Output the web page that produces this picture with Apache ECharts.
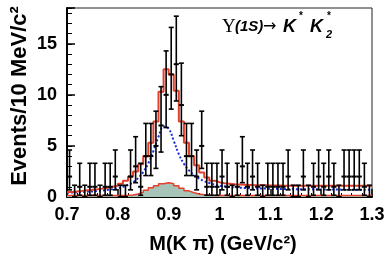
<!DOCTYPE html>
<html>
<head>
<meta charset="utf-8">
<script src="https://cdn.jsdelivr.net/npm/echarts@6/dist/echarts.min.js"></script>
<style>
html,body{margin:0;padding:0;background:#fff;}
#chart{width:390px;height:262px;}
</style>
</head>
<body>
<div id="chart"></div>
<script>
// ---- data (10 MeV bins from 0.70 to 1.30 GeV/c^2) ----
const massMin = 0.70;
const massMax = 1.30;
const binWidth = 0.01;

const counts = [2,0,1,0,1,1,0,1,1,2, 0,0,2,3,1,4,4,5,7,10, 12,13,9,4,4,2,5,1,1,1,
                2,1,0,1,3,1,2,1,0,1, 1,1,1,2,0,0,2,0,1,2, 1,2,1,0,2,2,2,2,1,0];
const errHigh = [4.6,1.15,3.3,1.15,3.3,3.3,1.15,3.3,3.3,4.6, 1.15,1.15,4.6,5.9,3.3,7.2,7.2,8.4,10.8,14.3,
                 16.6,17.7,13.1,7.2,7.2,4.6,8.4,3.3,3.3,3.3, 4.6,3.3,1.15,3.3,5.9,3.3,4.6,3.3,1.15,3.3,
                 3.3,3.3,3.3,4.6,1.15,1.15,4.6,1.15,3.3,4.6, 3.3,4.6,3.3,1.15,4.6,4.6,4.6,4.6,3.3,1.15];
const errLow = [0.7,0,0.17,0,0.17,0.17,0,0.17,0.17,0.7, 0,0,0.7,1.4,0.17,2.1,2.1,2.8,4.4,6.8,
                8.6,9.4,6.0,2.1,2.1,0.7,2.8,0.17,0.17,0.17, 0.7,0.17,0,0.17,1.4,0.17,0.7,0.17,0,0.17,
                0.17,0.17,0.17,0.7,0,0,0.7,0,0.17,0.7, 0.17,0.7,0.17,0,0.7,0.7,0.7,0.7,0.17,0];

// total fit (red histogram), per bin
const fitTotal = [0.5,0.55,0.6,0.65,0.7,0.75,0.82,0.9,1.0,1.1, 1.3,1.6,2.0,2.5,3.2,4.0,5.3,7.4,10.3,12.5,
                  12.0,10.4,7.4,5.3,4.0,3.1,2.4,1.9,1.6,1.45, 1.35,1.3,1.25,1.22,1.2,1.18,1.16,1.15,1.14,1.13,
                  1.12,1.12,1.11,1.11,1.1,1.1,1.1,1.1,1.1,1.1, 1.1,1.1,1.1,1.1,1.1,1.1,1.1,1.1,1.1,1.1];
// peaking background (shaded histogram), per bin
const peakingBkg = [0.15,0.15,0.15,0.15,0.15,0.15,0.15,0.15,0.15,0.15, 0.15,0.17,0.2,0.3,0.45,0.65,0.9,1.1,1.3,1.4,
                    1.3,1.1,0.85,0.6,0.42,0.3,0.22,0.18,0.15,0.15, 0.15,0.15,0.15,0.15,0.15,0.15,0.15,0.15,0.15,0.15,
                    0.15,0.15,0.15,0.15,0.15,0.15,0.15,0.15,0.15,0.15, 0.15,0.15,0.15,0.15,0.15,0.15,0.15,0.15,0.15,0.15];
// blue dotted component, at bin edges 0.70 ... 1.30
const blueCurve = [0.42,0.44,0.46,0.49,0.52,0.55,0.59,0.64,0.7,0.78, 0.88,1.0,1.18,1.45,1.85,2.45,3.3,4.5,5.9,6.9,
                   6.7,5.5,4.2,3.25,2.6,2.15,1.8,1.55,1.37,1.23, 1.12,1.04,0.98,0.94,0.91,0.88,0.86,0.84,0.83,0.82,
                   0.81,0.8,0.79,0.78,0.78,0.77,0.76,0.76,0.75,0.75, 0.74,0.74,0.73,0.73,0.72,0.72,0.72,0.71,0.71,0.7, 0.7];

const xTicks = [0.7,0.8,0.9,1.0,1.1,1.2,1.3];
const yTicks = [0,5,10,15];

// ---- helpers (build library data from the arrays) ----
const edges = blueCurve.map((_, i) => +(massMin + i * binWidth).toFixed(3));
const centers = counts.map((_, i) => +(massMin + (i + 0.5) * binWidth).toFixed(4));
function stepData(vals) {
  const d = vals.map((v, i) => [edges[i], v]);
  d.push([massMax, vals[vals.length - 1]]);
  return d;
}
const pointData = counts.map((c, i) => [centers[i], c, errLow[i], errHigh[i]]);

const FONT = "'Liberation Sans', Arial, Helvetica, sans-serif";
const RED = '#e5402c';

const chart = echarts.init(document.getElementById('chart'), null, {renderer: 'canvas'});
chart.setOption({
  animation: false,
  backgroundColor: '#fff',
  grid: {left: 67, right: 18, top: 8, bottom: 65, show: true, borderColor: '#222', borderWidth: 1, containLabel: false},
  xAxis: [{
    type: 'value', min: massMin, max: massMax, interval: 0.1,
    axisLine: {show: true, lineStyle: {color: '#000', width: 2}},
    axisTick: {show: true, inside: true, length: 8, lineStyle: {color: '#000', width: 1.5}},
    minorTick: {show: true, splitNumber: 5, length: 4, lineStyle: {color: '#000', width: 1}},
    splitLine: {show: false},
    axisLabel: {
      color: '#000', fontFamily: FONT, fontWeight: 'bold', fontSize: 18, margin: 9,
      formatter: v => { const r = Math.round(v * 10) / 10; return xTicks.includes(r) ? String(r) : ''; }
    }
  }],
  yAxis: [{
    type: 'value', min: 0, max: 18.5, interval: 5,
    axisLine: {show: true, lineStyle: {color: '#000', width: 2}},
    axisTick: {show: true, inside: true, length: 8, lineStyle: {color: '#000', width: 1.5}},
    splitLine: {show: false},
    axisLabel: {
      color: '#000', fontFamily: FONT, fontWeight: 'bold', fontSize: 18, margin: 10,
      formatter: v => yTicks.includes(v) ? String(v) : ''
    }
  }, {
    type: 'value', min: 0, max: 18.5, interval: 1, position: 'left',
    axisLine: {show: false},
    axisTick: {show: true, inside: true, length: 5, lineStyle: {color: '#000', width: 1}},
    splitLine: {show: false},
    axisLabel: {show: false}
  }],
  graphic: [
    {type: 'text', rotation: Math.PI / 2, x: 20, y: 96,
     style: {text: 'Events/10 MeV/c²', font: "bold 22px " + FONT, fill: '#000', textAlign: 'center', textVerticalAlign: 'middle'}},
    {type: 'text', x: 223, y: 244,
     style: {text: 'M(K π) (GeV/c²)', font: "bold 20px " + FONT, fill: '#000', textAlign: 'center', textVerticalAlign: 'middle'}},
    {type: 'text', x: 222, y: 27, style: {text: 'Υ', font: "19px 'Liberation Serif', 'DejaVu Serif', serif", fill: '#000', textAlign: 'left', textVerticalAlign: 'middle'}},
    {type: 'text', x: 235, y: 27, style: {text: '(1S)', font: "italic bold 15px " + FONT, fill: '#000', textAlign: 'left', textVerticalAlign: 'middle'}},
    {type: 'text', x: 263, y: 27, style: {text: '→', font: "16px 'DejaVu Sans', sans-serif", fill: '#000', textAlign: 'left', textVerticalAlign: 'middle'}},
    {type: 'text', x: 283, y: 27, style: {text: 'K', font: "italic bold 18px " + FONT, fill: '#000', textAlign: 'left', textVerticalAlign: 'middle'}},
    {type: 'text', x: 299, y: 16, style: {text: '*', font: "bold 10px " + FONT, fill: '#000', textAlign: 'left', textVerticalAlign: 'middle'}},
    {type: 'text', x: 310, y: 27, style: {text: 'K', font: "italic bold 18px " + FONT, fill: '#000', textAlign: 'left', textVerticalAlign: 'middle'}},
    {type: 'text', x: 327, y: 16, style: {text: '*', font: "bold 10px " + FONT, fill: '#000', textAlign: 'left', textVerticalAlign: 'middle'}},
    {type: 'text', x: 326, y: 35, style: {text: '2', font: "italic bold 11px " + FONT, fill: '#000', textAlign: 'left', textVerticalAlign: 'middle'}}
  ],
  series: [
    {
      type: 'line', step: 'end', data: stepData(peakingBkg), symbol: 'none', z: 2,
      lineStyle: {color: RED, width: 1.5},
      areaStyle: {color: '#a6c4b7', opacity: 1}
    },
    {
      type: 'line', data: blueCurve.map((v, i) => [edges[i], v]), smooth: 0.4, symbol: 'none', z: 3,
      lineStyle: {color: '#1b2bd6', width: 2, type: [2, 2]}
    },
    {
      type: 'line', step: 'end', data: stepData(fitTotal), symbol: 'none', z: 4,
      lineStyle: {color: RED, width: 2}
    },
    {
      type: 'custom', z: 5, data: pointData, clip: false,
      encode: {x: 0, y: 1},
      renderItem: function (params, api) {
        const x = api.value(0);
        const c = api.coord([x, api.value(1)]);
        const lo = api.coord([x, api.value(2)]);
        const hi = api.coord([x, api.value(3)]);
        const hw = api.size([binWidth, 0])[0] / 2;
        const cap = 2.5;
        const st = {stroke: '#000', lineWidth: 1.6};
        return {
          type: 'group',
          children: [
            {type: 'line', shape: {x1: c[0], y1: lo[1], x2: c[0], y2: hi[1]}, style: st},
            {type: 'line', shape: {x1: c[0] - cap, y1: hi[1], x2: c[0] + cap, y2: hi[1]}, style: st},
            {type: 'line', shape: {x1: c[0] - cap, y1: lo[1], x2: c[0] + cap, y2: lo[1]}, style: st},
            {type: 'line', shape: {x1: c[0] - hw, y1: c[1], x2: c[0] + hw, y2: c[1]}, style: {stroke: '#000', lineWidth: 2}}
          ]
        };
      }
    }
  ]
});
</script>
</body>
</html>
